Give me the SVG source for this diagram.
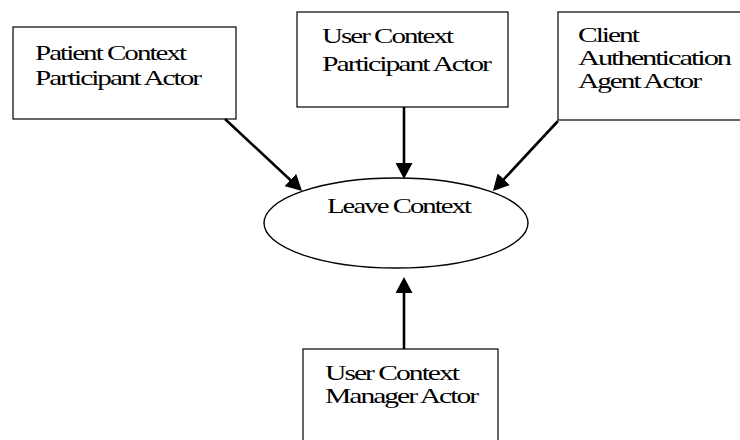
<svg xmlns="http://www.w3.org/2000/svg" width="740" height="440" viewBox="0 0 740 440">
<style>
.box{fill:#fff;stroke:#000;stroke-width:1.2}
.t{font-family:"Liberation Serif","Times New Roman",serif;font-size:22px;letter-spacing:-1.5px;fill:#000}
.c{stroke:#000;stroke-width:2.6;fill:none}
</style>
<defs>
<marker id="ah" viewBox="0 0 16 17" markerWidth="16" markerHeight="17" refX="8" refY="8.5" orient="auto" markerUnits="userSpaceOnUse">
<path d="M0,0 L16,8.5 L0,17 z" fill="#000"/>
</marker>
</defs>
<rect width="740" height="440" fill="#fff"/>
<g id="patient">
<rect class="box" x="13" y="27" width="223" height="92"/>
<text class="t" x="35" y="60" textLength="150" lengthAdjust="spacingAndGlyphs">Patient Context</text>
<text class="t" x="35" y="85" textLength="165" lengthAdjust="spacingAndGlyphs">Participant Actor</text>
</g>
<g id="user">
<rect class="box" x="297" y="12" width="211" height="95"/>
<text class="t" x="322" y="43" textLength="130" lengthAdjust="spacingAndGlyphs">User Context</text>
<text class="t" x="322" y="71" textLength="168" lengthAdjust="spacingAndGlyphs">Participant Actor</text>
</g>
<g id="client">
<rect class="box" x="558" y="12" width="190" height="108"/>
<text class="t" x="578" y="42" textLength="60" lengthAdjust="spacingAndGlyphs">Client</text>
<text class="t" x="578" y="65" textLength="152" lengthAdjust="spacingAndGlyphs">Authentication</text>
<text class="t" x="578" y="88" textLength="122" lengthAdjust="spacingAndGlyphs">Agent Actor</text>
</g>
<g id="leave">
<ellipse cx="396" cy="223" rx="132" ry="45" fill="#fff" stroke="#000" stroke-width="1.4"/>
<text class="t" x="327" y="213" textLength="143" lengthAdjust="spacingAndGlyphs">Leave Context</text>
</g>
<g id="manager">
<rect class="box" x="303" y="349" width="195" height="100"/>
<text class="t" x="325" y="380" textLength="133" lengthAdjust="spacingAndGlyphs">User Context</text>
<text class="t" x="325" y="403" textLength="152" lengthAdjust="spacingAndGlyphs">Manager Actor</text>
</g>
<g id="connectors">
<line class="c" x1="225" y1="119" x2="296.2" y2="185.5" marker-end="url(#ah)"/>
<line class="c" x1="404" y1="107" x2="404" y2="171" marker-end="url(#ah)"/>
<line class="c" x1="558" y1="121" x2="498.4" y2="185.1" marker-end="url(#ah)"/>
<line class="c" x1="404" y1="349" x2="404" y2="285" marker-end="url(#ah)"/>
</g>
</svg>
